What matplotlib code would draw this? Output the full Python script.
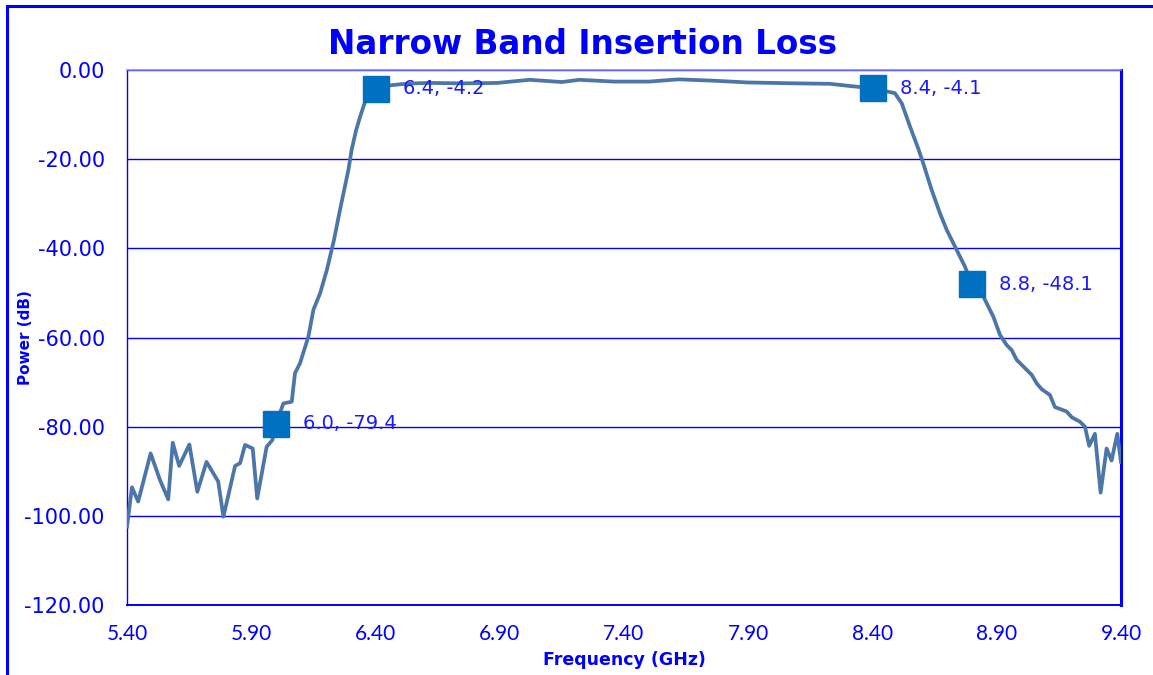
import matplotlib as mpl, matplotlib.pyplot as plt
from matplotlib.patches import Rectangle

# ====== Data ======
freq = [5.40, 5.42, 5.445, 5.495, 5.533, 5.566, 5.584, 5.610, 5.651, 5.683,
        5.720, 5.767, 5.788, 5.835, 5.855, 5.875, 5.906, 5.924, 5.962, 5.985,
        6.00, 6.029, 6.063, 6.076, 6.096, 6.130, 6.150, 6.177, 6.204, 6.233,
        6.257, 6.291, 6.304, 6.322, 6.338, 6.358, 6.378, 6.40, 6.45, 6.50,
        6.55, 6.62, 6.75, 6.89, 7.02, 7.15, 7.22, 7.36, 7.50, 7.62,
        7.76, 7.90, 8.10, 8.23, 8.31, 8.40, 8.49, 8.518, 8.551, 8.584,
        8.604, 8.638, 8.672, 8.699, 8.739, 8.772, 8.80, 8.846, 8.886, 8.913,
        8.940, 8.960, 8.980, 9.007, 9.041, 9.061, 9.081, 9.114, 9.134, 9.181,
        9.202, 9.235, 9.255, 9.272, 9.295, 9.318, 9.342, 9.362, 9.385, 9.40]
power = [-102.4, -93.6, -96.8, -86.0, -92.0, -96.3, -83.6, -88.8, -84.0, -94.6,
         -87.9, -92.3, -100.2, -88.8, -88.2, -84.1, -84.9, -96.1, -84.5, -83.0,
         -79.4, -74.8, -74.4, -68.0, -65.8, -59.8, -53.8, -50.1, -44.9, -38.1,
         -31.4, -22.4, -17.9, -13.5, -10.5, -7.1, -4.9, -4.2, -3.5, -3.2,
         -3.0, -2.9, -3.0, -2.9, -2.2, -2.7, -2.2, -2.6, -2.6, -2.1,
         -2.4, -2.8, -3.0, -3.1, -3.6, -4.1, -5.2, -7.5, -12.7, -17.6,
         -20.9, -26.9, -32.2, -35.9, -40.4, -44.1, -48.1, -50.8, -55.3, -59.4,
         -61.7, -62.8, -65.0, -66.5, -68.4, -70.3, -71.6, -72.9, -75.6, -76.6,
         -77.9, -78.9, -80.0, -84.3, -81.6, -94.8, -84.9, -87.6, -81.6, -87.9]

mark_freq = [6.0, 6.4, 8.4, 8.8]
mark_power = [-79.4, -4.2, -4.1, -48.1]
mark_labels = ["6.0, -79.4", "6.4, -4.2", "8.4, -4.1", "8.8, -48.1"]

x_ticks = [5.40, 5.90, 6.40, 6.90, 7.40, 7.90, 8.40, 8.90, 9.40]
y_ticks = [0, -20, -40, -60, -80, -100, -120]

BLUE = "#0000ff"
LINE = "#4d76a8"
MARK = "#0070c0"

# ====== Figure ======
fig = plt.figure(figsize=(11.53, 6.75), dpi=100)
ax = fig.add_axes([127/1153, 1-605/675, (1121-127)/1153, (605-70)/675])

ax.plot(freq, power, color=LINE, lw=2.7, solid_joinstyle="round", zorder=3)
ax.plot(mark_freq, mark_power, ls="none", marker="s", ms=19, color=MARK, zorder=4)
for fx, py, lab in zip(mark_freq, mark_power, mark_labels):
    ax.annotate(lab, (fx, py), xytext=(19.5, 0), textcoords="offset points",
                va="center", ha="left", fontsize=14, color="#1a1aff",
                family="DejaVu Sans", zorder=5)

ax.set_xlim(5.40, 9.40)
ax.set_ylim(-120, 0)
ax.set_xticks(x_ticks)
ax.set_xticklabels([f"{v:.2f}" for v in x_ticks], family="Lato", fontsize=15, color=BLUE)
ax.set_yticks(y_ticks)
ax.set_yticklabels([f"{v:.2f}" for v in y_ticks], family="DejaVu Sans", fontsize=15, color=BLUE)
ax.tick_params(axis="x", length=0, pad=14)
ax.tick_params(axis="y", length=0, pad=16)
ax.yaxis.grid(True, color=BLUE, lw=1.0)
ax.set_axisbelow(True)

ax.spines["top"].set_color("#7f7fff")
ax.spines["top"].set_linewidth(1.2)
ax.spines["right"].set_color(BLUE)
ax.spines["right"].set_linewidth(2.2)
ax.spines["bottom"].set_color(BLUE)
ax.spines["bottom"].set_linewidth(1.4)
ax.spines["left"].set_color(BLUE)
ax.spines["left"].set_linewidth(1.0)

fig.text(583/1153, 1-45/675, "Narrow Band Insertion Loss", ha="center", va="center",
         family="DejaVu Sans", fontweight="bold", fontsize=23.5, color=BLUE)
fig.text(26/1153, 1-338/675, "Power (dB)", ha="center", va="center", rotation=90,
         family="DejaVu Sans", fontweight="bold", fontsize=11, color=BLUE)
fig.text(624/1153, 1-660/675, "Frequency (GHz)", ha="center", va="center",
         family="DejaVu Sans", fontweight="bold", fontsize=12.5, color=BLUE)

# outer chart border (runs off the right and bottom edges)
fig.patches.append(Rectangle((7/1153, -0.05), 1.1, 0.05 + 1-6/675, transform=fig.transFigure,
                             fill=False, edgecolor=BLUE, lw=2.2))

fig.savefig("out.png", dpi=100)
